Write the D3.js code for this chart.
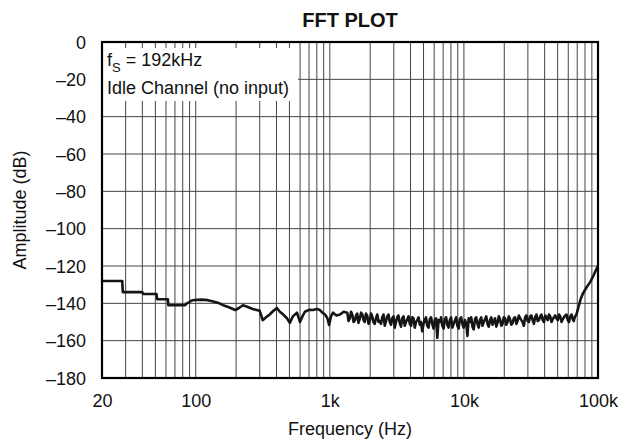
<!DOCTYPE html>
<html><head><meta charset="utf-8">
<script src="https://cdn.jsdelivr.net/npm/d3@7"></script>
<style>body{margin:0;background:#fff}svg{display:block}text{font-family:"Liberation Sans",Arial,Helvetica,sans-serif;fill:#111}</style>
</head><body><svg id="c" width="630" height="445"></svg>
<script>
const title = "FFT PLOT";
const xLabel = "Frequency (Hz)";
const yLabel = "Amplitude (dB)";
const xTickValues = [20, 100, 1000, 10000, 100000];
const xTickLabels = ["20", "100", "1k", "10k", "100k"];
const yTickValues = [0, -20, -40, -60, -80, -100, -120, -140, -160, -180];
const yTickLabels = ["0", "–20", "–40", "–60", "–80", "–100", "–120", "–140", "–160", "–180"];
const gridFreqs = [20,30,40,50,60,70,80,90,100,200,300,400,500,600,700,800,900,1000,2000,3000,4000,5000,6000,7000,8000,9000,10000,20000,30000,40000,50000,60000,70000,80000,90000,100000];

// low-frequency part
const freqLow = [20,28.3,28.6,40,40.5,51,51.5,62,62.5,83,86,89,93,98,110,123,135,150,160,175,197,210,225,245,266,300,316,335,356,380,403,424,450,479,503,530,569,599,625,652,700,748,800,844,880,921,960,987,1020,1057,1120,1192,1270];
const ampLow = [-128,-128,-134,-134,-135,-135,-137.8,-137.8,-141,-141,-140,-139.5,-138.5,-138.2,-138,-138.3,-139,-140,-141,-142,-143.6,-142.5,-141,-142,-143,-144,-149,-147.5,-146,-144,-142.5,-144.5,-146,-148,-150.5,-147,-145,-150,-147,-144.5,-143.5,-143.6,-143,-143.6,-145,-146,-148,-151.6,-147,-145,-146.5,-146,-144.5];

// noise floor part
const freqNoise = [1350,1380,1410,1440,1470,1505,1540,1570,1600,1635,1670,1710,1750,1785,1820,1860,1900,1945,1990,2030,2070,2115,2160,2210,2260,2310,2360,2410,2460,2515,2570,2625,2680,2740,2800,2860,2920,2985,3050,3115,3180,3250,3320,3395,3470,3545,3620,3700,3780,3865,3950,4035,4120,4210,4300,4395,4490,4590,4690,4790,4890,5000,5110,5220,5330,5450,5570,5690,5810,5940,6070,6200,6330,6470,6610,6755,6900,7055,7210,7365,7520,7685,7850,8025,8200,8380,8560,8750,8940,9135,9330,9535,9740,9955,10170,10395,10620,10855,11090,11335,11580,11835,12090,12355,12620,12895,13170,13460,13750,14055,14360,14675,14990,15320,15650,15995,16340,16700,17060,17435,17810,18205,18600,19005,19410,19840,20270,20715,21160,21625,22090,22580,23070,23575,24080,24610,25140,25695,26250,26825,27400,28005,28610,29240,29870,30525,31180,31865,32550,33270,33990,34735,35480,36265,37050,37865,38680,39530,40380,41270,42160,43085,44010,44980,45950,46960,47970,49025,50080,51185,52290,53440,54590,55790,56990,58245,59500,60810,62120,63485,64850,65925,67000];
const ampNoise = [-145,-149.5,-148,-144.5,-146,-150,-149,-146.5,-145.5,-150.5,-148.5,-145,-146,-149,-150,-145.5,-146.5,-151,-149,-145.5,-147,-150,-151,-148,-146,-150,-149.5,-151,-147.5,-146,-152,-149.5,-147,-146,-150,-151.5,-148,-147,-153,-150,-147.5,-146.5,-150.5,-152.5,-148,-147,-152,-150,-148.5,-147,-151,-152,-147.5,-148,-153,-150,-149,-147.5,-151.5,-150,-155,-151,-149,-147.5,-152,-153,-148.5,-147.5,-151,-153.5,-149,-148,-158.5,-149,-150,-147.5,-152,-153.5,-148.5,-147.5,-151.5,-153,-149,-147.5,-153,-151,-149.5,-147.5,-152,-153.5,-148.5,-147.5,-151,-153,-149,-150.5,-157.5,-148,-150,-147.5,-152.5,-154,-148.5,-147.5,-151,-153,-149,-147.5,-152,-150,-148.5,-147,-151,-152.5,-149,-147.5,-151.5,-150,-148,-152.5,-150.5,-147,-148.5,-152,-151,-147.5,-148,-151.5,-150,-147,-148.5,-151.5,-150.5,-148,-147.5,-151,-149.5,-146.5,-148,-149,-150,-152,-147.5,-146.5,-149.5,-150,-147,-146.5,-149,-151,-147.5,-146,-149.5,-149,-147,-146,-149,-150,-146.5,-147.5,-149,-146,-147,-150,-148.5,-147.5,-146.5,-148,-149,-146,-147,-150,-148.5,-147.5,-146.5,-146,-149,-150,-147,-146,-148.5,-149.5,-147.5];

// rise toward Nyquist
const freqRise = [69000,71500,74000,77500,82000,87600,92000,96000,100000];
const ampRise = [-146,-142,-138,-134.5,-131.5,-128.5,-125.5,-122.5,-120];

const freq = freqLow.concat(freqNoise, freqRise);
const amp = ampLow.concat(ampNoise, ampRise);

const svg = d3.select("#c");
const L = 102, R = 598, T = 42, B = 378;
const x = d3.scaleLog().domain([20, 100000]).range([L, R]);
const y = d3.scaleLinear().domain([-180, 0]).range([B, T]);

// grid
const g = svg.append("g");
g.selectAll("line.v").data(gridFreqs).join("line")
  .attr("x1", d => x(d)).attr("x2", d => x(d)).attr("y1", T).attr("y2", B)
  .attr("stroke", "#444").attr("stroke-width", 1);
g.selectAll("line.h").data(yTickValues).join("line")
  .attr("x1", L).attr("x2", R).attr("y1", d => y(d)).attr("y2", d => y(d))
  .attr("stroke", "#444").attr("stroke-width", 1);

// inset white box
svg.append("rect").attr("x", L).attr("y", 48).attr("width", 196).attr("height", 53).attr("fill", "#fff");
const t1 = svg.append("text").attr("x", 107).attr("y", 66).attr("font-size", 18);
t1.append("tspan").text("f");
t1.append("tspan").attr("dy", 6).attr("font-size", 13).text("S");
t1.append("tspan").attr("dy", -6).text(" = 192kHz");
svg.append("text").attr("x", 107).attr("y", 94).attr("font-size", 18).text("Idle Channel (no input)");

// curve
const line = d3.line().x((d, i) => x(freq[i])).y(d => y(d));
svg.append("path").attr("d", line(amp)).attr("fill", "none")
  .attr("stroke", "#151515").attr("stroke-width", 2.6).attr("stroke-linejoin", "round");

// frame
svg.append("rect").attr("x", L).attr("y", T).attr("width", R - L).attr("height", B - T)
  .attr("fill", "none").attr("stroke", "#000").attr("stroke-width", 2.2);

// axes labels
const xa = d3.axisBottom(x).tickValues(xTickValues).tickFormat((d, i) => xTickLabels[i]).tickSize(0).tickPadding(0);
const gx = svg.append("g").attr("transform", `translate(0,${B})`).call(xa);
gx.select(".domain").remove();
gx.selectAll("text").attr("font-size", 18).attr("dy", null).attr("y", 29).style("font-family", '"Liberation Sans",Arial,sans-serif').attr("fill", "#111");

const ya = d3.axisLeft(y).tickValues(yTickValues).tickFormat((d, i) => yTickLabels[i]).tickSize(0).tickPadding(0);
const gy = svg.append("g").attr("transform", `translate(${L - 16},0)`).call(ya);
gy.select(".domain").remove();
gy.selectAll("text").attr("font-size", 18).attr("dy", "0.35em").attr("x", 0).style("font-family", '"Liberation Sans",Arial,sans-serif').attr("fill", "#111");

svg.append("text").attr("x", (L + R) / 2).attr("y", 27).attr("text-anchor", "middle")
  .attr("font-size", 20).attr("font-weight", "bold").text(title);
svg.append("text").attr("x", (L + R) / 2).attr("y", 435).attr("text-anchor", "middle")
  .attr("font-size", 18).text(xLabel);
svg.append("text").attr("transform", `translate(26,${(T + B) / 2}) rotate(-90)`).attr("text-anchor", "middle")
  .attr("font-size", 18).text(yLabel);
</script></body></html>
